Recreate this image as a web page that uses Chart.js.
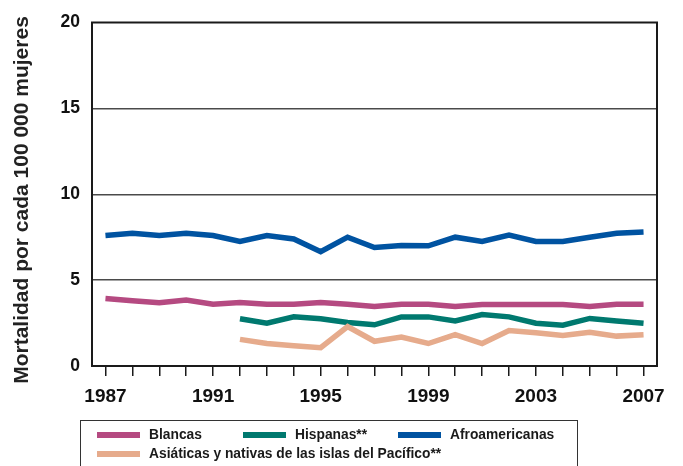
<!DOCTYPE html>
<html>
<head>
<meta charset="utf-8">
<script src="https://cdn.jsdelivr.net/npm/chart.js@4/dist/chart.umd.min.js"></script>
<style>
  html, body { margin: 0; padding: 0; background: #fff; }
  #wrap { position: relative; width: 683px; height: 466px; overflow: hidden; font-family: "Liberation Sans", Arial, sans-serif; }
  canvas { position: absolute; left: 0; top: 0; }
  #legend { position: absolute; left: 80px; top: 420px; width: 498px; height: 60px; border: 1px solid #333; box-sizing: border-box; }
  .item { position: absolute; font-weight: bold; font-size: 13.8px; color: #1a1a1a; white-space: nowrap; line-height: 16px; }
  .sw { position: absolute; width: 43px; height: 6px; }
</style>
</head>
<body>
<div id="wrap">
  <canvas id="c" width="683" height="466"></canvas>
  <div id="legend"></div>
</div>
<script>
const years = ["1987","1988","1989","1990","1991","1992","1993","1994","1995","1996","1997","1998","1999","2000","2001","2002","2003","2004","2005","2006","2007"];
const blancas = [3.93,3.8,3.69,3.84,3.6,3.7,3.6,3.6,3.7,3.6,3.46,3.6,3.6,3.46,3.58,3.58,3.58,3.58,3.46,3.6,3.6];
const hispanas = [null,null,null,null,null,2.75,2.49,2.86,2.75,2.53,2.4,2.86,2.86,2.62,3.0,2.86,2.49,2.38,2.77,2.62,2.49];
const afro = [7.6,7.73,7.6,7.73,7.6,7.25,7.6,7.4,6.65,7.5,6.9,7.02,7.0,7.5,7.25,7.62,7.25,7.25,7.5,7.73,7.8];
const asiaticas = [null,null,null,null,null,1.55,1.31,1.18,1.07,2.3,1.44,1.69,1.31,1.82,1.31,2.06,1.93,1.78,1.97,1.74,1.82];
const yTicks = [0,5,10,15,20];
const yTitle = "Mortalidad por cada 100 000 mujeres";
const seriesNames = ["Blancas","Hispanas**","Afroamericanas","Asiáticas y nativas de las islas del Pacífico**"];
const colors = ["#b54a81","#00796f","#0053a1","#e6ab8c"];

const frame = {
  id: 'frame',
  afterDraw(chart) {
    const a = chart.chartArea, ctx = chart.ctx;
    ctx.save();
    ctx.strokeStyle = '#1a1a1a';
    ctx.lineWidth = 2;
    ctx.strokeRect(a.left, a.top, a.right - a.left, a.bottom - a.top);
    // rotated y-axis title
    ctx.translate(22, 200);
    ctx.rotate(-Math.PI / 2);
    ctx.fillStyle = '#222';
    ctx.font = 'bold 21px "Liberation Sans", Arial, sans-serif';
    ctx.textAlign = 'center';
    ctx.textBaseline = 'middle';
    ctx.fillText(yTitle, 0, 0);
    ctx.restore();
  }
};

const mk = (i, data, order) => ({
  label: seriesNames[i], data, borderColor: colors[i], backgroundColor: colors[i],
  borderWidth: 5.5, pointRadius: 0, tension: 0, fill: false, order, borderJoinStyle: 'miter'
});

new Chart(document.getElementById('c'), {
  type: 'line',
  data: {
    labels: years,
    datasets: [mk(0, blancas, 3), mk(1, hispanas, 2), mk(2, afro, 1), mk(3, asiaticas, 0)]
  },
  options: {
    responsive: false,
    animation: false,
    devicePixelRatio: 1,
    layout: { padding: { top: 11, right: 26, bottom: 60, left: 0 } },
    plugins: { legend: { display: false }, tooltip: { enabled: false } },
    scales: {
      x: {
        type: 'category',
        offset: true,
        grid: { drawOnChartArea: false, offset: false, tickLength: 10, color: '#1a1a1a', lineWidth: 1.5 },
        border: { color: '#1a1a1a', width: 2 },
        ticks: {
          autoSkip: false, maxRotation: 0, padding: 9, color: '#111',
          font: { family: 'Liberation Sans', weight: 'bold', size: 19 },
          callback: function(v, i) { return i % 4 === 0 ? this.getLabelForValue(v) : ''; }
        },
        afterFit(s) { s.height = 40; }
      },
      y: {
        min: 0, max: 20,
        afterBuildTicks(s) { s.ticks = yTicks.map(v => ({ value: v })); },
        grid: { tickLength: 0, lineWidth: 1.5, color: c => (c.tick && (c.tick.value === 0 || c.tick.value === 20)) ? 'rgba(0,0,0,0)' : '#4a4a4a' },
        border: { color: '#1a1a1a', width: 2 },
        ticks: { padding: 12, color: '#111', font: { family: 'Liberation Sans', weight: 'bold', size: 17.5 } },
        afterFit(s) { s.width = 92; }
      }
    }
  },
  plugins: [frame]
});

const legend = document.getElementById('legend');
const pos = [[16, 14, 0], [162, 14, 1], [317, 14, 2], [16, 33, 3]];
pos.forEach(([x, y, i]) => {
  const sw = document.createElement('div');
  sw.className = 'sw';
  sw.style.left = x + 'px'; sw.style.top = (y - 3) + 'px'; sw.style.background = colors[i];
  legend.appendChild(sw);
  const t = document.createElement('div');
  t.className = 'item';
  t.style.left = (x + 52) + 'px'; t.style.top = (y - 8) + 'px';
  t.textContent = seriesNames[i];
  legend.appendChild(t);
});
</script>
</body>
</html>
